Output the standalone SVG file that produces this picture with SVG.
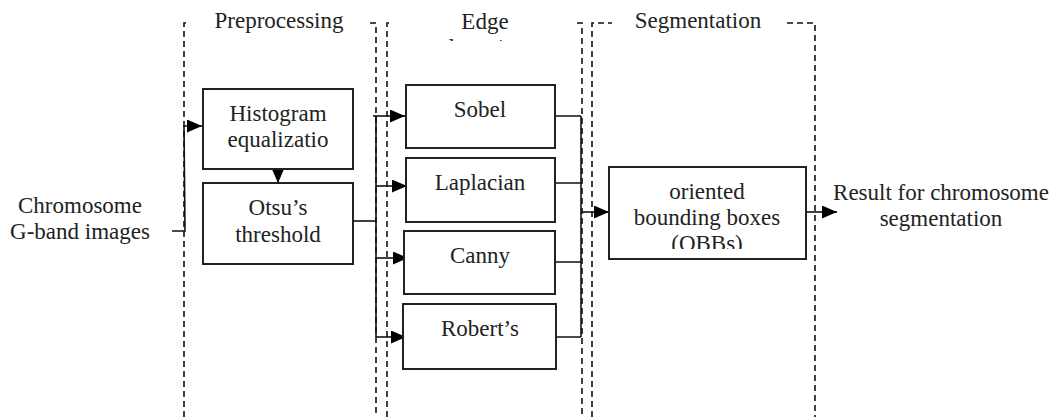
<svg xmlns="http://www.w3.org/2000/svg" width="1054" height="417" viewBox="0 0 1054 417">
<style>
text{font-family:"Liberation Serif","DejaVu Serif",serif;font-size:23px;fill:#222;text-anchor:middle}
.box{fill:#fff;stroke:#222;stroke-width:2}
.frame{fill:none;stroke:#111;stroke-width:1.6;stroke-dasharray:6 4}
.con{fill:none;stroke:#111;stroke-width:1.6}
</style>
<defs>
<marker id="ah" markerUnits="userSpaceOnUse" viewBox="0 0 15 13" markerWidth="15" markerHeight="13" refX="15" refY="6.5" orient="auto">
<path d="M0,0 L15,6.5 L0,13 z" fill="#000"/>
</marker>
<clipPath id="clipEdge"><rect x="400" y="0" width="170" height="41"/></clipPath>
<clipPath id="clipObb"><rect x="610" y="168" width="195" height="81"/></clipPath>
</defs>
<rect width="1054" height="417" fill="#fff"/>
<g id="frames">
<path class="frame" d="M184,417 V23 H190 M370,23 H376 V417"/>
<path class="frame" d="M387,417 V23 H391 M577,23 H582 V417"/>
<path class="frame" d="M592,417 V23 H612 M787,23 H815 V417"/>
<text x="279" y="28">Preprocessing</text>
<text x="485" y="29">Edge</text>
<text x="485" y="55" clip-path="url(#clipEdge)">detection</text>
<text x="698" y="28">Segmentation</text>
</g>
<g id="connectors">
<path class="con" d="M172,231 H185 L184,126 H202" marker-end="url(#ah)"/>
<path class="con" d="M278,169 V183" marker-end="url(#ah)"/>
<path class="con" d="M353,221 H376"/>
<path class="con" d="M376,116 V337"/>
<path class="con" d="M373,116 H405" marker-end="url(#ah)"/>
<path class="con" d="M376,186 H407" marker-end="url(#ah)"/>
<path class="con" d="M376,258 H408" marker-end="url(#ah)"/>
<path class="con" d="M376,337 H406" marker-end="url(#ah)"/>
<path class="con" d="M555,116 H581 M555,183 H581 M555,262 H581 M556,337 H581"/>
<path class="con" d="M581,116 V337"/>
<path class="con" d="M581,212 H609" marker-end="url(#ah)"/>
<path class="con" d="M806,212 H837" marker-end="url(#ah)"/>
</g>
<g id="input">
<text x="80" y="213">Chromosome</text>
<text x="80" y="239">G-band images</text>
</g>
<g id="histogram">
<rect class="box" x="203" y="89" width="150" height="80"/>
<text x="278" y="121">Histogram</text>
<text x="278" y="147">equalizatio</text>
</g>
<g id="otsu">
<rect class="box" x="203" y="183" width="150" height="81"/>
<text x="278" y="215">Otsu’s</text>
<text x="278" y="242">threshold</text>
</g>
<g id="sobel">
<rect class="box" x="406" y="85" width="149" height="63"/>
<text x="480" y="117">Sobel</text>
</g>
<g id="laplacian">
<rect class="box" x="406" y="158" width="149" height="64"/>
<text x="480" y="190">Laplacian</text>
</g>
<g id="canny">
<rect class="box" x="404" y="231" width="151" height="63"/>
<text x="480" y="263">Canny</text>
</g>
<g id="roberts">
<rect class="box" x="403" y="304" width="153" height="65"/>
<text x="480" y="336">Robert’s</text>
</g>
<g id="obb">
<rect class="box" x="609" y="167" width="197" height="92"/>
<text x="707" y="199">oriented</text>
<text x="707" y="225">bounding boxes</text>
<text x="707" y="251" clip-path="url(#clipObb)">(OBBs)</text>
</g>
<g id="result">
<text x="941" y="200">Result for chromosome</text>
<text x="941" y="226">segmentation</text>
</g>
</svg>
